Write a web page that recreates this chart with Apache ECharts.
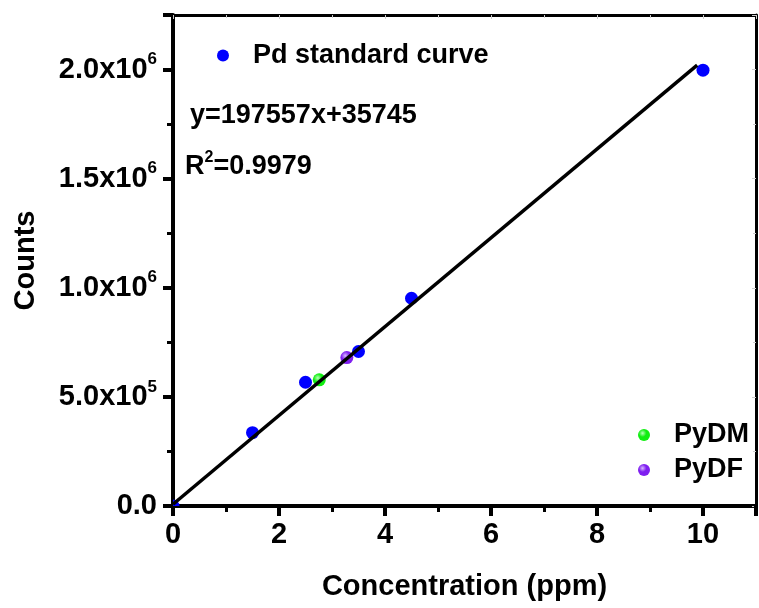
<!DOCTYPE html>
<html>
<head>
<meta charset="utf-8">
<script src="https://cdn.jsdelivr.net/npm/echarts@6/dist/echarts.min.js"></script>
<style>
html, body { margin: 0; padding: 0; background: #fff; }
#chart { width: 759px; height: 608px; }
</style>
</head>
<body>
<div id="chart"></div>
<script>
// Pd standard curve points
var pdConc = [0, 1.5, 2.5, 3.5, 4.5, 10];
var pdCounts = [0, 336000, 567000, 708000, 952000, 1997000];
// samples
var pydmConc = [2.76];
var pydmCounts = [578000];
var pydfConc = [3.28];
var pydfCounts = [680000];
// fitted line as drawn
var fitConc = [0, 9.89];
var fitCounts = [8000, 2020000];

var xTickLabels = ['0', '2', '4', '6', '8', '10'];
var yTickValues = [0, 500000, 1000000, 1500000, 2000000];
var yTickMantissa = ['0.0', '5.0', '1.0', '1.5', '2.0'];
var yTickExponent = ['', '5', '6', '6', '6'];

var FONT = '"Liberation Sans", Arial, sans-serif';

function pairs(xs, ys) {
	var out = [];
	for (var i = 0; i < xs.length; i++) out.push([xs[i], ys[i]]);
	return out;
}

function sphere(light, base) {
	return {
		type: 'radial', x: 0.38, y: 0.35, r: 0.7,
		colorStops: [{ offset: 0, color: light }, { offset: 0.45, color: base }, { offset: 1, color: base }]
	};
}

// dots drawn clipped to the plot area (origin point shows as a quarter)
function dotItem(params, api) {
	var p = api.coord([api.value(0), api.value(1)]);
	return {
		type: 'circle',
		shape: { cx: p[0], cy: p[1], r: 6.5 },
		style: { fill: api.visual('color') }
	};
}

var legendRich = { g: { width: 19 } };
function legendFmt(name) { return '{g|}' + name; }

var option = {
	animation: false,
	grid: { left: 173, right: 3, top: 15, bottom: 102 },
	xAxis: [{
		type: 'value', min: 0, max: 11, interval: 2,
		name: 'Concentration (ppm)', nameLocation: 'middle', nameGap: 66,
		nameTextStyle: { fontFamily: FONT, fontWeight: 'bold', fontSize: 29, color: '#000' },
		axisLine: { show: true, onZero: false, lineStyle: { color: '#000', width: 4 } },
		axisTick: { show: true, length: 10, lineStyle: { color: '#000', width: 4 } },
		minorTick: { show: true, splitNumber: 2, length: 6, lineStyle: { color: '#000', width: 3 } },
		splitLine: { show: false },
		axisLabel: {
			margin: 14, fontFamily: FONT, fontWeight: 'bold', fontSize: 29, color: '#000',
			showMaxLabel: false,
			formatter: function (v) {
				var k = xTickLabels.indexOf(String(v));
				return k >= 0 ? xTickLabels[k] : '';
			}
		}
	}, {
		type: 'value', position: 'top', min: 0, max: 11, interval: 2,
		axisLine: { show: true, onZero: false, lineStyle: { color: '#000', width: 3 } },
		axisTick: { show: true, inside: true, length: 4, lineStyle: { color: '#ccc', width: 1 } },
		minorTick: { show: true, splitNumber: 2, length: 3, lineStyle: { color: '#ccc', width: 1 } },
		axisLabel: { show: false }, splitLine: { show: false }
	}],
	yAxis: [{
		type: 'value', min: 0, max: 2250000, interval: 500000,
		name: 'Counts', nameLocation: 'middle', nameGap: 133, nameRotate: 90,
		nameTextStyle: { fontFamily: FONT, fontWeight: 'bold', fontSize: 29, color: '#000' },
		axisLine: { show: true, onZero: false, lineStyle: { color: '#000', width: 4 } },
		axisTick: { show: true, length: 10, lineStyle: { color: '#000', width: 4 } },
		minorTick: { show: true, splitNumber: 2, length: 6, lineStyle: { color: '#000', width: 3 } },
		splitLine: { show: false },
		axisLabel: {
			margin: 16, showMaxLabel: false,
			formatter: function (v) {
				var k = yTickValues.indexOf(v);
				if (k < 0) return '';
				if (!yTickExponent[k]) return '{a|' + yTickMantissa[k] + '}';
				return '{a|' + yTickMantissa[k] + 'x10}{s|' + yTickExponent[k] + '}';
			},
			rich: {
				a: { fontFamily: FONT, fontWeight: 'bold', fontSize: 29, color: '#000' },
				s: { fontFamily: FONT, fontWeight: 'bold', fontSize: 17, color: '#000', padding: [0, 0, 20, 0] }
			}
		}
	}, {
		type: 'value', position: 'right', min: 0, max: 2250000, interval: 500000,
		axisLine: { show: true, onZero: false, lineStyle: { color: '#000', width: 3 } },
		axisTick: { show: true, inside: true, length: 4, lineStyle: { color: '#ccc', width: 1 } },
		minorTick: { show: true, splitNumber: 2, length: 3, lineStyle: { color: '#ccc', width: 1 } },
		axisLabel: { show: false }, splitLine: { show: false }
	}],
	legend: [{
		data: ['Pd standard curve'],
		left: 212, top: 37, icon: 'circle', itemWidth: 12, itemHeight: 12,
		textStyle: { fontFamily: FONT, fontWeight: 'bold', fontSize: 27, color: '#000', rich: legendRich },
		formatter: legendFmt
	}, {
		data: ['PyDM', 'PyDF'],
		orient: 'vertical', left: 633, top: 416, itemGap: 7, icon: 'circle', itemWidth: 12, itemHeight: 12,
		textStyle: { fontFamily: FONT, fontWeight: 'bold', fontSize: 27, lineHeight: 28, color: '#000', rich: legendRich },
		formatter: legendFmt
	}],
	graphic: [{
		type: 'text', left: 190, top: 102,
		style: { text: 'y=197557x+35745', font: 'bold 27px ' + FONT, fill: '#000' }
	}, {
		type: 'text', left: 185, top: 150,
		style: {
			text: '{a|R}{s|2}{a|=0.9979}',
			rich: {
				a: { font: 'bold 27px ' + FONT, fill: '#000' },
				s: { font: 'bold 16px ' + FONT, fill: '#000', padding: [0, 0, 18, 0] }
			}
		}
	}],
	series: [{
		name: 'Pd standard curve', type: 'custom', clip: true,
		data: pairs(pdConc, pdCounts), encode: { x: 0, y: 1 },
		renderItem: dotItem,
		itemStyle: { color: '#0000ff' }, z: 2
	}, {
		name: 'PyDM', type: 'scatter',
		data: pairs(pydmConc, pydmCounts),
		symbolSize: 13, itemStyle: { color: sphere('#b8ffb8', '#11ee11'), opacity: 1 }, z: 2
	}, {
		name: 'PyDF', type: 'scatter',
		data: pairs(pydfConc, pydfCounts),
		symbolSize: 13, itemStyle: { color: sphere('#d8b8ff', '#7f1ff0'), opacity: 1 }, z: 2
	}, {
		name: 'fit', type: 'line',
		data: pairs(fitConc, fitCounts),
		showSymbol: false, symbol: 'none',
		lineStyle: { color: '#000', width: 3.5 }, z: 3
	}]
};

var myChart = echarts.init(document.getElementById('chart'));
myChart.setOption(option);
</script>
</body>
</html>
